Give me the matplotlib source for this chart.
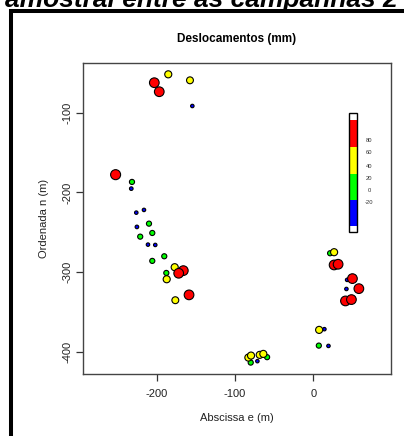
import matplotlib
matplotlib.use("Agg")
import matplotlib.pyplot as plt
from matplotlib.patches import Rectangle
from matplotlib.lines import Line2D
import numpy as np

plt.rcParams['font.family'] = ['Liberation Sans', 'DejaVu Sans']
plt.rcParams['axes.unicode_minus'] = False

# Data: abscissa e (m), ordinate n (m), displacement (mm)
east = [-185.2, -203.0, -157.5, -196.7, -154.5, -252.4, -231.5, -232.4,
        -226.0, -216.2, -209.8, -225.2, -205.6, -221.0, -211.1, -201.8,
        -190.3, -205.6, -177.0, -166.0, -171.9, -187.7, -187.2, -158.7, -176.2,
        21.3, 26.4, 26.4, 31.5, 43.0, 49.8, 42.1, 58.0, 40.9, 48.5,
        7.3, 14.0, 6.9, 19.2,
        -83.0, -79.6, -80.0, -71.5, -68.5, -63.9, -59.1]
north = [-51.9, -62.4, -59.4, -73.7, -91.6, -177.7, -186.8, -195.2,
         -225.3, -221.9, -239.1, -243.2, -250.8, -255.4, -265.4, -265.8,
         -280.0, -285.8, -293.7, -298.0, -301.3, -300.9, -308.8, -328.4, -335.1,
         -276.2, -274.9, -290.9, -290.0, -309.6, -308.0, -321.0, -320.6, -336.0, -334.3,
         -372.3, -371.4, -392.0, -392.4,
         -407.0, -404.5, -413.3, -411.5, -403.6, -402.4, -406.5]
displ = [45, 85, 42, 85, -10, 90, 15, -8,
         -10, -10, 15, -8, 15, 15, -10, -10,
         15, 15, 45, 85, 85, 15, 45, 85, 42,
         15, 45, 85, 85, -10, 85, -10, 85, 85, 85,
         45, -10, 15, -10,
         45, 45, 15, -10, 45, 45, 15]

class_bounds = [0, 30, 60]
class_colors = ['#0000FF', '#00FF00', '#FFFF00', '#FF0000']
legend_labels = ['80', '60', '40', '20', '0', '-20']

xticks = [-200, -100, 0]
yticks = [-100, -200, -300, -400]

W, H = 404, 436
fig = plt.figure(figsize=(W / 100, H / 100), dpi=100)

# outer frame and cut-off page title
fig.add_artist(Line2D([10.5 / W, 10.5 / W, 1.05], [-0.05, 1 - 11 / H, 1 - 11 / H],
                      transform=fig.transFigure, color='black', lw=2.9,
                      solid_joinstyle='miter'))
fig.text(5 / W, 1 - 7 / H, 'amostral entre as campanhas 2', fontsize=19,
         fontweight='bold', fontstyle='italic', ha='left', va='baseline')

ax = fig.add_axes([83 / W, 1 - 374 / H, (391 - 83) / W, (374 - 63) / H])
ax.set_xlim(-294, 99)
ax.set_ylim(-427.6, -37.7)

e = np.array(east)
n = np.array(north)
d = np.array(displ)
idx = np.digitize(d, class_bounds)
cols = [class_colors[i] for i in idx]
dpx = 3.5 + 0.065 * (d + 10)
sizes = (dpx * 0.72) ** 2
order = np.argsort(d, kind='stable')
ax.scatter(e[order], n[order], s=sizes[order], c=[cols[i] for i in order],
           edgecolors='black', linewidths=0.8, zorder=3)

for sp in ax.spines.values():
    sp.set_color('#444444')
    sp.set_linewidth(1.0)
ax.set_xticks(xticks)
ax.set_xticklabels([str(v) for v in xticks])
ax.set_yticks(yticks)
ax.set_yticklabels([str(v) for v in yticks], rotation=90, va='center')
ax.tick_params(axis='both', length=5, width=0.9, color='#333333',
               labelsize=8, labelcolor='#222222', direction='out')
ax.tick_params(axis='x', pad=6)
ax.tick_params(axis='y', pad=2.5)
ax.set_xlabel('Abscissa e (m)', fontsize=8, color='#222222', labelpad=10)
ax.set_ylabel('Ordenada n (m)', fontsize=8, color='#222222', labelpad=10)

fig.text(237 / W, 1 - 39 / H, 'Deslocamentos (mm)', fontsize=8.5,
         fontweight='bold', ha='center', va='center')

# colour legend box
def fy(py):
    return 1 - (py - 63) / (374 - 63)

def fx(px):
    return (px - 83) / (391 - 83)

x0, x1 = fx(349), fx(357)
bands = [113, 120, 147, 174, 200, 226, 232]
band_cols = ['white', '#FF0000', '#FFFF00', '#00FF00', '#0000FF', 'white']
for i, bc in enumerate(band_cols):
    ax.add_patch(Rectangle((x0, fy(bands[i + 1])), x1 - x0,
                           fy(bands[i]) - fy(bands[i + 1]),
                           transform=ax.transAxes, facecolor=bc,
                           edgecolor='none', zorder=4))
ax.add_patch(Rectangle((x0, fy(232)), x1 - x0, fy(113) - fy(232),
                       transform=ax.transAxes, facecolor='none',
                       edgecolor='black', lw=1.0, zorder=5))
label_py = [141, 153, 166, 178, 190, 202]
for lab, py in zip(legend_labels, label_py):
    ax.text(fx(369), fy(py), lab, transform=ax.transAxes, fontsize=4.2,
            ha='center', va='center', color='#333333')

fig.savefig('out.png', dpi=100)
